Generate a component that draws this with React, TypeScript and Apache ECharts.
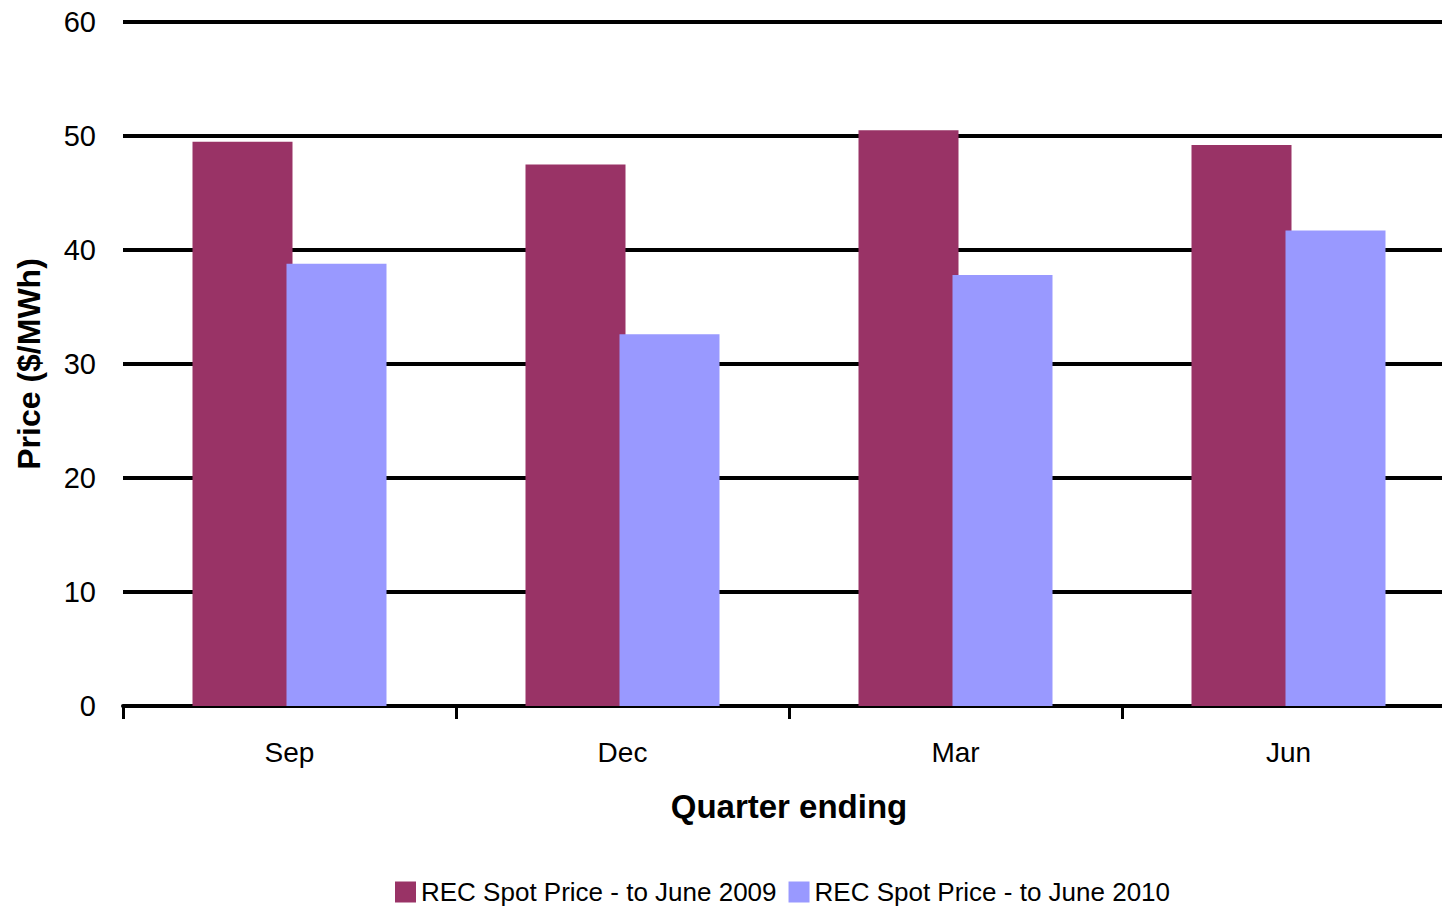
import React, { useEffect, useRef } from "react";
import * as echarts from "echarts";

const categories = ["Sep", "Dec", "Mar", "Jun"];
const series2009 = [49.5, 47.5, 50.5, 49.2];
const series2010 = [38.8, 32.6, 37.8, 41.7];
const seriesNames = ["REC Spot Price - to June 2009", "REC Spot Price - to June 2010"];

export default function App() {
  const ref = useRef<HTMLDivElement>(null);
  useEffect(() => {
    if (!ref.current) return;
    const chart = echarts.init(ref.current, null, { renderer: "svg" });
    const font = "Liberation Sans, Arial, sans-serif";
    chart.setOption({
      animation: false,
      backgroundColor: "#ffffff",
      grid: { left: 123, right: 0, top: 22, bottom: 200, containLabel: false },
      legend: {
        top: 874,
        left: 390,
        itemWidth: 21,
        itemHeight: 21,
        itemGap: 12,
        icon: "rect",
        textStyle: { fontFamily: font, fontSize: 26, color: "#000" },
        data: seriesNames,
      },
      xAxis: {
        type: "category",
        data: categories,
        name: "Quarter ending",
        nameLocation: "middle",
        nameGap: 84,
        nameTextStyle: { fontFamily: font, fontSize: 33, fontWeight: "bold", color: "#000" },
        axisLine: { lineStyle: { color: "#000", width: 4 } },
        axisTick: { show: true, length: 13, lineStyle: { color: "#000", width: 3 } },
        axisLabel: { fontFamily: font, fontSize: 28, color: "#000", margin: 32 },
      },
      yAxis: {
        type: "value",
        min: 0,
        max: 60,
        interval: 10,
        name: "Price ($/MWh)",
        nameLocation: "middle",
        nameGap: 78,
        nameRotate: 90,
        nameTextStyle: { fontFamily: font, fontSize: 32, fontWeight: "bold", color: "#000" },
        axisLine: { show: false },
        axisTick: { show: false },
        axisLabel: { fontFamily: font, fontSize: 29, color: "#000", margin: 27 },
        splitLine: { lineStyle: { color: "#000", width: 4 } },
      },
      series: [
        {
          name: seriesNames[0],
          type: "bar",
          data: series2009,
          barWidth: 100,
          barGap: "-6%",
          itemStyle: { color: "#993366" },
        },
        {
          name: seriesNames[1],
          type: "bar",
          data: series2010,
          barWidth: 100,
          itemStyle: { color: "#9999FF" },
        },
      ],
    });
    return () => chart.dispose();
  }, []);
  return (
    <div style={{ width: 1442, height: 906, position: "absolute", left: 0, top: 0, overflow: "hidden" }}>
      <div ref={ref} style={{ width: 1455, height: 906 }} />
    </div>
  );
}
